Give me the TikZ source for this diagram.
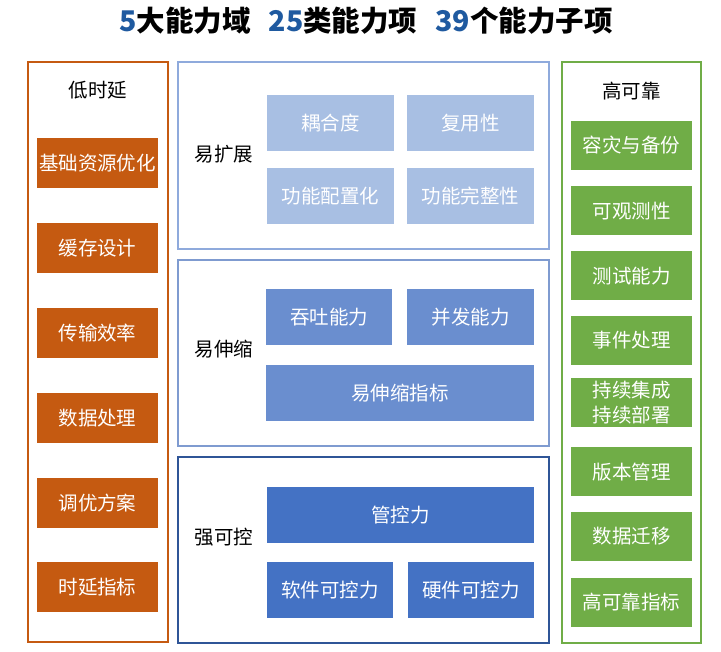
\documentclass[tikz,border=0pt]{standalone}
\usepackage{fontspec}
\setmainfont{Noto Sans CJK SC}
\definecolor{ora}{HTML}{C55A11}
\definecolor{grn}{HTML}{70AD47}
\definecolor{tblue}{HTML}{1F5AA0}
\definecolor{p1b}{HTML}{8FAADC}
\definecolor{p1f}{HTML}{A8BFE3}
\definecolor{p2b}{HTML}{7F9BD0}
\definecolor{p2f}{HTML}{6A8ECF}
\definecolor{p3b}{HTML}{2F5597}
\definecolor{p3f}{HTML}{4472C4}
\tikzset{
  txt/.style={font=\fontsize{19.5}{23}\selectfont, inner sep=0pt, outer sep=0pt},
  frm/.style={draw=#1, line width=2pt, fill=white, inner sep=0pt, outer sep=0pt},
  cbox/.style={txt, fill=#1, text=white, minimum width=121pt, minimum height=50pt},
  pbox/.style={txt, fill=#1, text=white, minimum height=56pt},
}
\begin{document}
\begin{tikzpicture}[x=1pt,y=-1pt]
\useasboundingbox[fill=white] (0,0) rectangle (721,652);
% title
\node[inner sep=0pt, font=\fontsize{28.5}{31}\selectfont\bfseries] (title) at (366,21)
  {{\color{tblue}5}大能力域\hspace{18pt}{\color{tblue}25}类能力项\hspace{18pt}{\color{tblue}39}个能力子项};
% frames
\node[frm=ora, minimum width=140pt, minimum height=580pt] (left) at (98,352) {};
\node[frm=grn, minimum width=139pt, minimum height=581pt] (right) at (631.5,352.5) {};
\node[frm=p1b, minimum width=371pt, minimum height=187pt] (p1) at (363.5,155.5) {};
\node[frm=p2b, minimum width=371pt, minimum height=186pt] (p2) at (363.5,353) {};
\node[frm=p3b, minimum width=371pt, minimum height=186pt] (p3) at (363.5,550) {};
% labels
\node[txt] (llab) at (98,90) {低时延};
\node[txt] (rlab) at (631.5,91) {高可靠};
\node[txt] (l1) at (224,154) {易扩展};
\node[txt] (l2) at (224,349) {易伸缩};
\node[txt] (l3) at (224,537) {强可控};
% left boxes
\node[cbox=ora] (a1) at (97.5,163) {基础资源优化};
\node[cbox=ora] (a2) at (97.5,248) {缓存设计};
\node[cbox=ora] (a3) at (97.5,333) {传输效率};
\node[cbox=ora] (a4) at (97.5,418) {数据处理};
\node[cbox=ora] (a5) at (97.5,503) {调优方案};
\node[cbox=ora] (a6) at (97.5,587) {时延指标};
% right boxes
\node[cbox=grn, minimum height=49pt] (b1) at (631.5,145.5) {容灾与备份};
\node[cbox=grn, minimum height=49pt] (b2) at (631.5,211) {可观测性};
\node[cbox=grn, minimum height=49pt] (b3) at (631.5,276) {测试能力};
\node[cbox=grn, minimum height=49pt] (b4) at (631.5,340.5) {事件处理};
\node[cbox=grn, minimum height=49pt, align=center, font=\fontsize{19.5}{26}\selectfont] (b5) at (631.5,402.5) {持续集成\\[-1pt]持续部署};
\node[cbox=grn, minimum height=49pt] (b6) at (631.5,472) {版本管理};
\node[cbox=grn, minimum height=49pt] (b7) at (631.5,536.5) {数据迁移};
\node[cbox=grn, minimum height=49pt] (b8) at (631.5,602) {高可靠指标};
% panel 1
\node[pbox=p1f, minimum width=127pt] (c1) at (330.5,123) {耦合度};
\node[pbox=p1f, minimum width=127pt] (c2) at (470.5,123) {复用性};
\node[pbox=p1f, minimum width=127pt] (c3) at (330.5,196.5) {功能配置化};
\node[pbox=p1f, minimum width=127pt] (c4) at (470.5,196.5) {功能完整性};
% panel 2
\node[pbox=p2f, minimum width=126pt] (d1) at (329,317) {吞吐能力};
\node[pbox=p2f, minimum width=127pt] (d2) at (470.5,317) {并发能力};
\node[pbox=p2f, minimum width=268pt] (d3) at (400,393) {易伸缩指标};
% panel 3
\node[pbox=p3f, minimum width=267pt] (e1) at (400.5,515) {管控力};
\node[pbox=p3f, minimum width=126pt] (e2) at (330,590) {软件可控力};
\node[pbox=p3f, minimum width=126pt] (e3) at (471,590) {硬件可控力};
\end{tikzpicture}
\end{document}
